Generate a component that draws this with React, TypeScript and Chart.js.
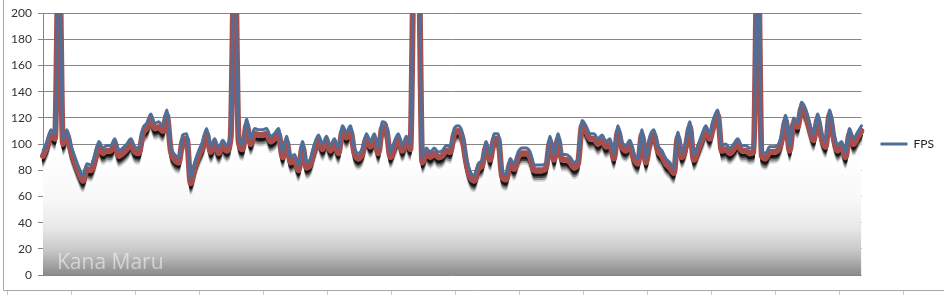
import React, { useEffect, useRef } from "react";
import { Chart, registerables } from "chart.js";

Chart.register(...registerables);

// FPS samples (values above 200 are clipped spikes)
const fps: number[] = [
  95, 102, 111, 108, 260, 104, 111, 99, 90, 82,
  76, 85, 84, 92, 102, 97, 99, 99, 104, 95,
  97, 100, 104, 98, 97, 112, 116, 123, 116, 117,
  114, 126, 99, 92, 90, 107, 108, 74, 86, 95,
  102, 112, 98, 104, 97, 103, 99, 109, 260, 106,
  100, 119, 104, 112, 111, 111, 112, 106, 108, 112,
  94, 106, 90, 92, 84, 102, 86, 89, 100, 107,
  100, 106, 99, 104, 97, 114, 109, 114, 97, 93,
  97, 108, 102, 108, 97, 117, 115, 94, 102, 108,
  99, 106, 100, 260, 260, 90, 97, 94, 97, 94,
  95, 99, 98, 112, 114, 109, 90, 79, 76, 85,
  88, 102, 92, 108, 108, 79, 77, 89, 85, 94,
  97, 97, 94, 84, 84, 84, 86, 106, 92, 108,
  92, 92, 90, 86, 89, 118, 114, 108, 108, 104,
  107, 102, 104, 93, 114, 102, 99, 103, 93, 89,
  111, 90, 106, 111, 99, 95, 89, 86, 82, 109,
  94, 102, 117, 92, 99, 107, 114, 108, 120, 126,
  99, 100, 97, 100, 104, 99, 99, 97, 98, 260,
  95, 93, 98, 98, 99, 107, 122, 99, 120, 117,
  132, 127, 116, 107, 123, 109, 102, 126, 109, 99,
  102, 94, 112, 104, 109, 114,
];

const categories: string[] = fps.map((_, i) => String(i + 1));
const yTicks: number[] = [0, 20, 40, 60, 80, 100, 120, 140, 160, 180, 200];
const seriesName = "FPS";
const watermark = "Kana Maru";

// shading layers beneath the FPS line (offset in FPS units, colour, width)
const shadeOffsets: number[] = [4, 7.4, 9, 10.5, 12];
const shadeColors: string[] = ["#a84f4d", "#141414", "#4a4a4a", "#909090", "#d4d4d4"];
const shadeWidths: number[] = [6, 3, 2.2, 2.2, 2.2];

const framePlugin = {
  id: "frame",
  beforeDraw(chart: any) {
    const c = chart.ctx;
    c.save();
    c.strokeStyle = "#a8a8a8";
    c.lineWidth = 1;
    c.beginPath();
    c.moveTo(3.5, 0);
    c.lineTo(3.5, 290.5);
    c.lineTo(944, 290.5);
    c.stroke();
    c.strokeStyle = "#c8c8c8";
    c.beginPath();
    for (let x = 7; x < 944; x += 64) {
      c.moveTo(x + 0.5, 291);
      c.lineTo(x + 0.5, 295);
    }
    c.stroke();
    c.restore();
  },
  afterDatasetsDraw(chart: any) {
    const c = chart.ctx;
    const area = chart.chartArea;
    c.save();
    c.font = '21px "Open Sans"';
    c.fillStyle = "rgba(255,255,255,0.5)";
    c.textBaseline = "alphabetic";
    c.fillText(watermark, area.left + 14, area.bottom - 6);
    c.restore();
  },
};

const fillGradient = (ctx: any) => {
  const chart = ctx.chart;
  const area = chart.chartArea;
  if (!area) return "#ffffff";
  const y = chart.scales.y;
  const g = chart.ctx.createLinearGradient(0, y.getPixelForValue(90), 0, y.getPixelForValue(0));
  g.addColorStop(0, "#ffffff");
  g.addColorStop(0.35, "#f8f8f8");
  g.addColorStop(0.6, "#e8e8e8");
  g.addColorStop(0.8, "#c6c6c6");
  g.addColorStop(1, "#8a8a8a");
  return g;
};

export default function App() {
  const ref = useRef<HTMLCanvasElement | null>(null);

  useEffect(() => {
    if (!ref.current) return;
    const lineBase = {
      pointRadius: 0,
      pointHoverRadius: 0,
      fill: false,
      cubicInterpolationMode: "monotone" as const,
      borderJoinStyle: "round" as const,
      borderCapStyle: "round" as const,
    };
    const shades = shadeOffsets.map((off, k) => ({
      ...lineBase,
      label: "shade" + k,
      data: fps.map((v) => v - off),
      borderColor: shadeColors[k],
      borderWidth: shadeWidths[k],
    }));
    const chart = new Chart(ref.current, {
      type: "line",
      data: {
        labels: categories,
        datasets: [
          {
            ...lineBase,
            label: seriesName,
            data: fps,
            borderColor: "#4f6f99",
            backgroundColor: "#4f6f99",
            borderWidth: 3,
            pointStyle: "line",
          },
          ...shades,
          {
            ...lineBase,
            label: "area",
            data: fps,
            fill: "origin",
            borderWidth: 0,
            borderColor: "rgba(0,0,0,0)",
            backgroundColor: fillGradient,
          },
        ],
      },
      options: {
        responsive: false,
        animation: false,
        events: [],
        layout: { padding: { top: 13, bottom: 20, left: 0, right: 0 } },
        plugins: {
          tooltip: { enabled: false },
          legend: {
            display: true,
            position: "right",
            align: "center",
            maxWidth: 84,
            labels: {
              filter: (item: any) => item.datasetIndex === 0,
              usePointStyle: true,
              pointStyleWidth: 27,
              boxHeight: 8,
              padding: 19,
              color: "#222222",
              font: { family: "Lato", size: 12 },
            },
          },
        },
        scales: {
          x: {
            display: false,
            offset: false,
          },
          y: {
            min: 0,
            max: 200,
            afterFit: (s: any) => {
              s.width = 43;
            },
            afterBuildTicks: (s: any) => {
              s.ticks = yTicks.map((v) => ({ value: v }));
            },
            grid: {
              color: "#868686",
              lineWidth: 1,
              tickLength: 5,
              drawTicks: true,
            },
            border: { color: "#868686", width: 1 },
            ticks: {
              padding: 6,
              color: "#333333",
              font: { family: "Lato", size: 12 },
            },
          },
        },
      },
      plugins: [framePlugin],
    });
    return () => chart.destroy();
  }, []);

  return (
    <div style={{ position: "fixed", left: 0, top: 0, width: 944, height: 295, background: "#ffffff" }}>
      <canvas ref={ref} width={944} height={295} style={{ display: "block" }} />
    </div>
  );
}
